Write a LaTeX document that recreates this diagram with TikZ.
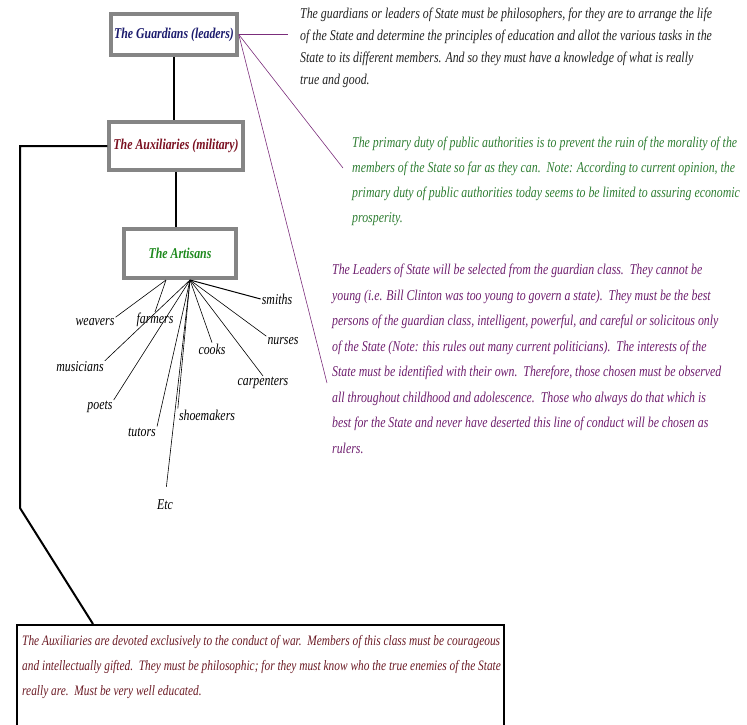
\documentclass[tikz,border=0pt]{standalone}
\usepackage{fontspec}
\newfontfamily\platofont{Liberation Serif}[FakeStretch=0.79]
\definecolor{guardblue}{HTML}{1C1C6E}
\definecolor{auxred}{HTML}{7A1020}
\definecolor{artgreen}{HTML}{1E8A1E}
\definecolor{notegreen}{HTML}{2E7D32}
\definecolor{notepurple}{HTML}{6E1E6E}
\definecolor{noteblack}{HTML}{222222}
\definecolor{notered}{HTML}{6B1A24}
\definecolor{boxgray}{HTML}{858585}
\definecolor{linkpurple}{HTML}{7B2D7B}

\begin{document}
\begin{tikzpicture}[x=1pt, y=-1pt,
  tier/.style={draw=boxgray, line width=3.5pt, fill=white, inner sep=0pt, font=\platofont\bfseries\itshape\fontsize{15}{17}\selectfont},
  note/.style={anchor=north west, inner sep=0pt, align=left, font=\platofont\itshape\fontsize{15}{25}\selectfont},
  trade/.style={inner sep=1pt, font=\platofont\itshape\fontsize{15}{17}\selectfont},
  link/.style={line width=2pt},
  spoke/.style={line width=0.6pt},
  gloss/.style={draw=linkpurple, line width=0.6pt}
]
\useasboundingbox (0,0) rectangle (747,724);

\node[tier, text=guardblue, minimum width=126pt, minimum height=41pt] (guard) at (174,34.5) {The Guardians (leaders)};
\node[tier, text=auxred, minimum width=134pt, minimum height=48pt] (aux) at (176,146) {The Auxiliaries (military)};
\node[tier, text=artgreen, minimum width=112pt, minimum height=49pt] (art) at (180,253.5) {The Artisans};

\node[note, text=noteblack, font=\platofont\itshape\fontsize{15}{22}\selectfont] (gnote) at (300,8) {The guardians or leaders of State must be philosophers, for they are to arrange the life\\
of the State and determine the principles of education and allot the various tasks in the\\
State to its different members. And so they must have a knowledge of what is really\\
true and good.};
\node[note, text=notegreen] (dutynote) at (352,137) {The primary duty of public authorities is to prevent the ruin of the morality of the\\
members of the State so far as they can.\ \ Note: According to current opinion, the\\
primary duty of public authorities today seems to be limited to assuring economic\\
prosperity.};
\node[note, text=notepurple, font=\platofont\itshape\fontsize{15}{25.5}\selectfont] (leadnote) at (332,264) {The Leaders of State will be selected from the guardian class.\ \ They cannot be\\
young (i.e. Bill Clinton was too young to govern a state).\ \ They must be the best\\
persons of the guardian class, intelligent, powerful, and careful or solicitous only\\
of the State (Note: this rules out many current politicians).\ \ The interests of the\\
State must be identified with their own.\ \ Therefore, those chosen must be observed\\
all throughout childhood and adolescence.\ \ Those who always do that which is\\
best for the State and never have deserted this line of conduct will be chosen as\\
rulers.};

\node[draw, line width=1.5pt, anchor=north west, minimum width=487pt, minimum height=120pt] (auxframe) at (16,624) {};
\node[note, text=notered, font=\platofont\itshape\fontsize{14.4}{25}\selectfont] (auxnote) at (22,635) {The Auxiliaries are devoted exclusively to the conduct of war.\ \ Members of this class must be courageous\\
and intellectually gifted.\ \ They must be philosophic; for they must know who the true enemies of the State\\
really are.\ \ Must be very well educated.};

\node[trade] (smiths) at (277,299) {smiths};
\node[trade] (weavers) at (95,322) {weavers};
\node[trade] (farmers) at (155,320) {farmers};
\node[trade] (nurses) at (283,341) {nurses};
\node[trade] (cooks) at (212,349) {cooks};
\node[trade] (musicians) at (80,367) {musicians};
\node[trade] (carpenters) at (263,383) {carpenters};
\node[trade] (poets) at (100,407) {poets};
\node[trade] (shoemakers) at (207,415) {shoemakers};
\node[trade] (tutors) at (142,432) {tutors};
\node[trade] (etc) at (165,505) {Etc};

\coordinate (hub) at (190,280);
\coordinate (hubl) at (166,280);
\coordinate (gtip) at (288,33);
\coordinate (dtip) at (343,168);
\coordinate (ltip) at (327,383);
\coordinate (bendtop) at (20,146);
\coordinate (bendlow) at (20,508);
\coordinate (auxtip) at (93,624);

\draw[link] (guard.south) -- (guard.south |- aux.north);
\draw[link] (aux.south) -- (aux.south |- art.north);
\draw[link] (aux.west) -- (bendtop) -- (bendlow) -- (auxtip);

\draw[gloss] (guard.east) -- (guard.east -| gtip);
\draw[gloss] (guard.east) -- (dtip);
\draw[gloss] (guard.east) -- (ltip);

\draw[spoke, line width=1pt] (hub) -- (smiths.west);
\draw[spoke] (hubl) -- (weavers.north east);
\draw[spoke] (hubl) -- (farmers.north);
\draw[spoke] (hub) -- (nurses.north west);
\draw[spoke] (hub) -- (cooks.north);
\draw[spoke] (hub) -- (musicians.north east);
\draw[spoke] (hub) -- (carpenters.north);
\draw[spoke] (hub) -- (poets.north east);
\draw[spoke] (hub) -- (shoemakers.north west);
\draw[spoke] (hub) -- (tutors.north east);
\draw[spoke, shorten >=12pt] (hub) -- (etc.north);
\end{tikzpicture}
\end{document}
